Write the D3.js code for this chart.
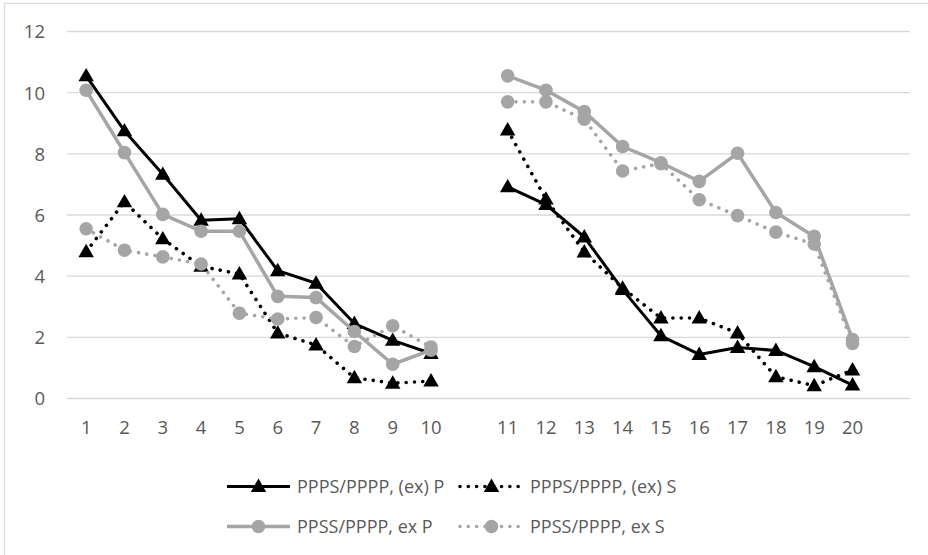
<!DOCTYPE html>
<html>
<head>
<meta charset="utf-8">
<script src="https://cdn.jsdelivr.net/npm/d3@7"></script>
<style>
  html, body { margin: 0; padding: 0; background: #fff; }
  svg { display: block; }
  text { font-family: "Open Sans", "Liberation Sans", sans-serif; fill: #595959; }
</style>
</head>
<body>
<svg id="chart" width="928" height="555"></svg>
<script>
// ---- data ----
const categories = ["1","2","3","4","5","6","7","8","9","10","","11","12","13","14","15","16","17","18","19","20"," "];
const yTicks = [0, 2, 4, 6, 8, 10, 12];
const seriesNames = ["PPPS/PPPP, (ex) P", "PPPS/PPPP, (ex) S", "PPSS/PPPP, ex P", "PPSS/PPPP, ex S"];
const ppppExP = [10.55, 8.75, 7.33, 5.83, 5.88, 4.18, 3.77, 2.45, 1.9, 1.47, null,
                 6.92, 6.34, 5.28, 3.56, 2.05, 1.44, 1.67, 1.57, 1.04, 0.44, null];
const ppppExS = [4.8, 6.43, 5.22, 4.32, 4.07, 2.14, 1.75, 0.68, 0.5, 0.57, null,
                 8.78, 6.52, 4.79, 3.61, 2.63, 2.63, 2.14, 0.71, 0.42, 0.93, null];
const ppssExP = [10.08, 8.04, 6.02, 5.47, 5.47, 3.34, 3.3, 2.19, 1.12, 1.58, null,
                 10.55, 10.08, 9.38, 8.24, 7.71, 7.1, 8.02, 6.08, 5.3, 1.93, null];
const ppssExS = [5.55, 4.85, 4.63, 4.4, 2.79, 2.6, 2.65, 1.7, 2.38, 1.68, null,
                 9.7, 9.7, 9.13, 7.44, 7.68, 6.5, 5.98, 5.44, 5.05, 1.8, null];

const seriesValues = [ppppExP, ppppExS, ppssExP, ppssExS];
const seriesStyle = [
  { color: "#000000", dashed: false, marker: "triangle", width: 3 },
  { color: "#000000", dashed: true,  marker: "triangle", width: 3.6 },
  { color: "#A5A5A5", dashed: false, marker: "circle",   width: 3.5 },
  { color: "#A5A5A5", dashed: true,  marker: "circle",   width: 3.6 }
];

const svg = d3.select("#chart");

// chart area border (only left/top visible)
svg.append("rect").attr("x", 4.5).attr("y", 3.5).attr("width", 940).attr("height", 570)
  .attr("fill", "none").attr("stroke", "#D9D9D9").attr("stroke-width", 1.2);

const x = d3.scaleBand().domain(d3.range(categories.length)).range([67, 910]);
const y = d3.scaleLinear().domain([0, 12]).range([398.5, 31.5]);

// gridlines
svg.append("g").selectAll("line").data(yTicks).join("line")
  .attr("x1", 67).attr("x2", 910)
  .attr("y1", d => y(d)).attr("y2", d => y(d))
  .attr("stroke", "#D9D9D9").attr("stroke-width", 1.3);

// y axis labels
const yAxis = d3.axisLeft(y).tickValues(yTicks).tickSize(0).tickPadding(0);
const gy = svg.append("g").attr("transform", "translate(45,0)").call(yAxis);
gy.select(".domain").remove();
gy.selectAll("text").attr("font-size", 18.5).attr("fill", "#595959")
  .style("font-family", "'Open Sans', sans-serif").attr("dy", "0.35em");

// x axis labels
const xAxis = d3.axisBottom(x).tickFormat(i => categories[i]).tickSize(0).tickPadding(0);
const gx = svg.append("g").attr("transform", "translate(0,428)").call(xAxis);
gx.select(".domain").remove();
gx.selectAll("text").attr("font-size", 18.5).attr("fill", "#595959")
  .style("font-family", "'Open Sans', sans-serif").attr("dy", "0.35em");

const triangle = d3.symbol().type(d3.symbolTriangle).size(104);
const circle = d3.symbol().type(d3.symbolCircle).size(145);

function applyLineStyle(sel, st) {
  sel.attr("fill", "none").attr("stroke", st.color).attr("stroke-width", st.width)
    .attr("stroke-linejoin", "round");
  if (st.dashed) {
    sel.attr("stroke-dasharray", "0.01 8.3").attr("stroke-linecap", "round");
  }
  return sel;
}

function drawMarker(g, st, cx, cy) {
  g.append("path")
    .attr("d", st.marker === "triangle" ? triangle() : circle())
    .attr("transform", `translate(${cx},${cy + (st.marker === "triangle" ? 1 : 0)})`)
    .attr("fill", st.color);
}

const line = d3.line()
  .defined(d => d.v !== null)
  .x(d => x(d.i) + x.bandwidth() / 2)
  .y(d => y(d.v));

seriesValues.forEach((vals, si) => {
  const st = seriesStyle[si];
  const pts = vals.map((v, i) => ({ i, v }));
  const g = svg.append("g");
  applyLineStyle(g.append("path").attr("d", line(pts)), st);
  pts.filter(d => d.v !== null).forEach(d => {
    drawMarker(g, st, x(d.i) + x.bandwidth() / 2, y(d.v));
  });
});

// legend
const legendPos = [
  { lx: 227, ly: 486.5 }, { lx: 460, ly: 486.5 },
  { lx: 227, ly: 526.5 }, { lx: 460, ly: 526.5 }
];
seriesNames.forEach((name, si) => {
  const st = seriesStyle[si];
  const p = legendPos[si];
  const g = svg.append("g");
  applyLineStyle(g.append("line").attr("x1", p.lx).attr("x2", p.lx + 63)
    .attr("y1", p.ly).attr("y2", p.ly), st);
  drawMarker(g, st, p.lx + 31.5, p.ly);
  g.append("text").attr("x", p.lx + 70).attr("y", p.ly).attr("dy", "0.35em")
    .attr("font-size", 18).attr("fill", "#595959").text(name);
});
</script>
</body>
</html>
